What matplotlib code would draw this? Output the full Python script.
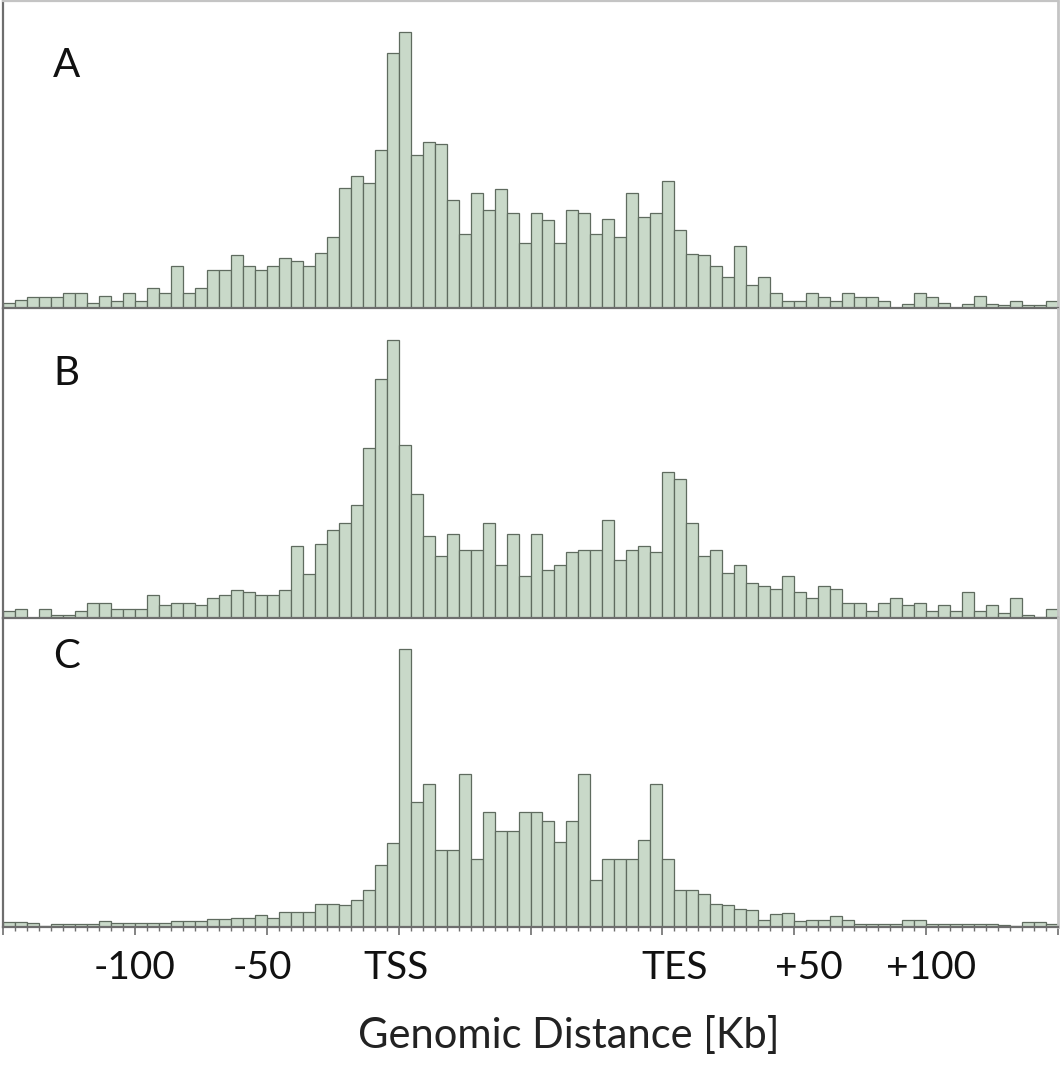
"""Distribution of binding sites around genes (meta-gene histograms A-C)
"""

#%% Imports
import matplotlib
matplotlib.use('Agg')
import matplotlib.pyplot as plt
import matplotlib.transforms as mtransforms
import numpy as np

#%% Data (bar heights per bin)

panel_labels = ['A', 'B', 'C']

heights_A = [5, 8, 11, 11, 11, 15, 15, 5, 12, 7, 15, 7, 20, 15, 42, 15, 20, 38, 38, 53,
             42, 38, 42, 50, 47, 42, 55, 71, 120, 132, 125, 157, 254, 275, 153, 165, 163, 108, 74, 115,
             98, 119, 95, 65, 95, 88, 65, 98, 95, 74, 89, 71, 115, 91, 95, 127, 78, 54, 53, 42,
             31, 62, 23, 31, 15, 7, 7, 15, 11, 7, 15, 11, 11, 7, 0, 4, 15, 11, 5, 0,
             4, 12, 4, 3, 7, 3, 3, 7]

heights_B = [7, 9, 0, 9, 3, 3, 7, 15, 15, 9, 9, 9, 23, 13, 15, 15, 13, 20, 23, 28,
             26, 23, 23, 28, 71, 44, 73, 87, 94, 112, 168, 237, 275, 171, 123, 81, 61, 83, 67, 67,
             94, 52, 83, 42, 83, 48, 52, 65, 67, 67, 97, 57, 67, 71, 65, 145, 138, 94, 61, 67,
             45, 52, 35, 32, 29, 42, 26, 20, 32, 29, 15, 15, 7, 15, 20, 13, 15, 7, 13, 7,
             26, 7, 13, 5, 20, 3, 1, 9]

heights_C = [5, 5, 4, 1, 3, 3, 3, 3, 6, 4, 4, 4, 4, 4, 6, 6, 6, 8, 8, 9,
             9, 12, 9, 15, 15, 15, 23, 23, 22, 27, 37, 61, 83, 275, 124, 142, 76, 76, 152, 67,
             114, 95, 95, 114, 114, 105, 84, 105, 152, 47, 67, 67, 67, 86, 142, 67, 37, 37, 33, 23,
             22, 18, 17, 7, 13, 14, 6, 7, 7, 11, 7, 3, 3, 3, 3, 7, 7, 3, 3, 3,
             3, 3, 3, 2, 1, 5, 5, 3]

# x axis annotation (positions in bin units)
tick_labels = ['-100', '-50', 'TSS', 'TES', '+50', '+100']
tick_pos = [11.0, 21.6, 32.75, 56.0, 67.25, 77.4]

xlabel = 'Genomic Distance [Kb]'

#%% Style
plt.rcParams['font.family'] = ['Lato', 'DejaVu Sans']

bar_color = '#c9d9c9'
edge_color = '#5f6b5f'
frame_dark = '#6e6e6e'
frame_light = '#c4c4c4'

W, H = 1062, 1067
fig = plt.figure(figsize=(W / 100, H / 100), dpi=100)

# panel extents in pixels (top, baseline)
left_px, right_px = 3, 1058
rows = [(1, 308), (309, 618), (618, 927)]

all_heights = [heights_A, heights_B, heights_C]
n_bins = len(heights_A)

axes = []
for k, (top, base) in enumerate(rows):
    ax = fig.add_axes([left_px / W, 1 - base / H, (right_px - left_px) / W, (base - top) / H])
    x = np.arange(n_bins)
    ax.bar(x, all_heights[k], width=1.0, align='edge', color=bar_color,
           edgecolor=edge_color, linewidth=0.9)
    ax.set_xlim(0, n_bins)
    ax.set_ylim(0, 306)
    ax.set_yticks([])
    ax.set_xticks([])
    ax.spines['left'].set_color(frame_dark)
    ax.spines['left'].set_linewidth(1.6)
    ax.spines['bottom'].set_color(frame_dark)
    ax.spines['bottom'].set_linewidth(1.6)
    ax.spines['right'].set_color(frame_light)
    ax.spines['right'].set_linewidth(2.0)
    if k == 0:
        ax.spines['top'].set_color(frame_light)
        ax.spines['top'].set_linewidth(1.6)
    else:
        ax.spines['top'].set_visible(False)
    ax.patch.set_alpha(0)
    ax.text(0.06, 0.79 if k == 0 else (0.79 if k == 1 else 0.875), panel_labels[k],
            transform=ax.transAxes, fontsize=29, ha='center', va='center', color='#111111')
    axes.append(ax)

# bottom panel: bin edge ticks and custom labels
axc = axes[-1]
axc.set_xticks(np.arange(0, n_bins + 1, 11))
axc.set_xticks(np.arange(0, n_bins + 1), minor=True)
axc.tick_params(axis='x', which='major', length=6, width=1.2, color=frame_dark, labelbottom=False)
axc.tick_params(axis='x', which='minor', length=3, width=1.0, color=frame_dark)

trans = mtransforms.blended_transform_factory(axc.transData, fig.transFigure)
for lab, p in zip(tick_labels, tick_pos):
    axc.text(p, 1 - 968 / H, lab, transform=trans, fontsize=28,
             ha='center', va='center', color='#111111')

fig.text(569 / W, 1 - 1036 / H, xlabel, fontsize=30, ha='center', va='center', color='#222222')

fig.savefig('out.png', dpi=100)
